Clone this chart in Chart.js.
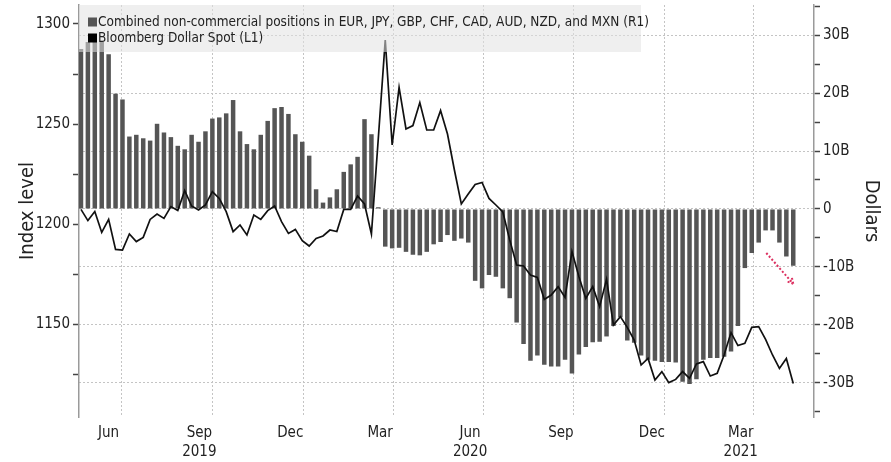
<!DOCTYPE html>
<html>
<head>
<meta charset="utf-8">
<script src="https://cdn.jsdelivr.net/npm/chart.js@4.4.1/dist/chart.umd.min.js"></script>
<style>
  html, body { margin: 0; padding: 0; background: #fff; }
  #wrap { width: 891px; height: 462px; }
</style>
</head>
<body>
<div id="wrap"><canvas id="chart" width="891" height="462"></canvas></div>
<script>
// weekly observations, first one on Tue 2019-05-21
const firstWeek = [2019, 5, 21];

// Combined non-commercial positions, billions USD (right axis)
const positions = [
    27.6, 28.8, 28.8, 28.8, 26.7, 19.9, 18.9, 12.5, 12.8, 12.2,
    11.8, 14.7, 13.2, 12.4, 10.9, 10.3, 12.8, 11.6, 13.4, 15.6,
    15.8, 16.5, 18.8, 13.4, 11.2, 10.3, 12.8, 15.2, 17.4, 17.6,
    16.4, 12.9, 11.6, 9.2, 3.4, 1.1, 2.0, 3.4, 6.4, 7.7,
    9.0, 15.5, 12.9, 0.3, -6.5, -6.8, -6.7, -7.4, -7.9, -8.0,
    -7.4, -6.1, -5.7, -4.5, -5.5, -5.1, -5.8, -12.4, -13.7, -11.4,
    -11.7, -13.7, -15.4, -19.6, -23.3, -26.2, -25.3, -26.9, -27.2, -27.2,
    -26.0, -28.4, -25.1, -23.8, -23.0, -22.9, -22.0, -20.2, -18.7, -22.7,
    -23.1, -25.3, -26.0, -26.2, -26.4, -26.4, -26.5, -29.8, -30.2, -29.4,
    -26.0, -25.7, -25.7, -25.5, -24.6, -20.2, -10.2, -7.6, -5.8, -3.7,
    -3.7, -5.8, -8.2, -9.8
];

// Bloomberg Dollar Spot index (left axis)
const dollarSpot = [
    1207.3, 1201.7, 1206.2, 1195.8, 1202.3, 1187.3, 1187.0, 1195.0, 1191.2, 1193.3,
    1202.3, 1205.0, 1202.8, 1208.7, 1206.7, 1216.7, 1209.0, 1207.0, 1209.5, 1216.2,
    1212.8, 1206.2, 1196.2, 1199.5, 1194.5, 1204.5, 1202.3, 1206.7, 1209.0, 1201.2,
    1195.3, 1197.3, 1191.7, 1189.0, 1192.8, 1194.0, 1197.0, 1196.2, 1207.3, 1207.3,
    1214.0, 1210.0, 1195.0, 1243.0, 1292.0, 1239.5, 1268.3, 1247.5, 1249.2, 1260.7,
    1247.0, 1247.0, 1256.7, 1245.0, 1227.0, 1210.0, 1215.0, 1219.8, 1220.8, 1212.8,
    1209.5, 1206.0, 1192.0, 1179.5, 1179.0, 1174.5, 1173.3, 1162.3, 1164.5, 1168.7,
    1163.3, 1186.2, 1173.7, 1162.8, 1168.7, 1158.7, 1172.3, 1149.5, 1153.7, 1148.3,
    1142.0, 1129.5, 1132.8, 1122.0, 1126.2, 1120.7, 1122.3, 1126.2, 1122.8, 1130.0,
    1131.2, 1124.0, 1125.3, 1134.5, 1145.7, 1139.2, 1140.3, 1148.3, 1148.7, 1142.3,
    1134.5, 1127.8, 1132.8, 1120.3
];

// x axis: grid lines at month ends, labels shown for the month before
const gridDates = [
    [2019, 7, 1], [2019, 10, 1], [2020, 1, 1], [2020, 4, 1],
    [2020, 7, 1], [2020, 10, 1], [2021, 1, 1], [2021, 4, 1]
];
const monthLabels = [
    ['Jun'], ['Sep', '2019'], ['Dec'], ['Mar'],
    ['Jun', '2020'], ['Sep'], ['Dec'], ['Mar', '2021']
];

const leftTicks = [1125, 1150, 1175, 1200, 1225, 1250, 1275, 1300];
const leftLabels = ['', '1150', '', '1200', '', '1250', '', '1300'];
const rightTicks = [-35, -30, -25, -20, -15, -10, -5, 0, 5, 10, 15, 20, 25, 30, 35];
const rightLabels = ['', '-30B', '', '-20B', '', '-10B', '', '0', '', '10B', '', '20B', '', '30B', ''];

// red dotted arrow (week index, billions)
const arrowFrom = [99.1, -7.6];
const arrowTo = [103.0, -12.9];

const DAY = 86400000;
const t0 = Date.UTC(firstWeek[0], firstWeek[1] - 1, firstWeek[2]);
const dayOf = d => Math.round((Date.UTC(d[0], d[1] - 1, d[2]) - t0) / DAY);
const weekX = positions.map((_, i) => i * 7);
const gridX = gridDates.map(dayOf);

const FONT = "'DejaVu Sans Condensed', 'Liberation Sans Narrow', 'DejaVu Sans', sans-serif";
const TXT = '#222';
const AXIS = '#9a9a9a';
const GRID = '#c4c4c4';

function noPad(s) {
    s.paddingTop = 0;
    s.paddingBottom = 0;
    s.paddingLeft = 0;
    s.paddingRight = 0;
}

const legendBox = {
    id: 'legendBox',
    afterDatasetsDraw(chart) {
        const ctx = chart.ctx;
        const area = chart.chartArea;
        ctx.save();
        ctx.fillStyle = 'rgba(226,226,226,0.55)';
        ctx.fillRect(area.left, area.top, 562, 47);
        ctx.font = '13.5px ' + FONT;
        ctx.textBaseline = 'middle';
        const marks = ['#555555', '#000000'];
        chart.data.datasets.forEach(ds => {
            const k = ds.legendRow;
            const y = area.top + 17 + k * 16;
            ctx.fillStyle = marks[k];
            ctx.fillRect(area.left + 9, y - 4.5, 9, 9);
            ctx.fillStyle = TXT;
            ctx.fillText(ds.label, area.left + 19, y);
        });
        ctx.restore();
    }
};

const redArrow = {
    id: 'redArrow',
    afterDatasetsDraw(chart) {
        const {ctx, scales} = chart;
        const x1 = scales.x.getPixelForValue(arrowFrom[0] * 7);
        const y1 = scales.y2.getPixelForValue(arrowFrom[1]);
        const x2 = scales.x.getPixelForValue(arrowTo[0] * 7);
        const y2 = scales.y2.getPixelForValue(arrowTo[1]);
        const ang = Math.atan2(y2 - y1, x2 - x1);
        ctx.save();
        ctx.strokeStyle = '#dc3060';
        ctx.lineWidth = 2;
        ctx.setLineDash([2, 2]);
        ctx.beginPath();
        ctx.moveTo(x1, y1);
        ctx.lineTo(x2, y2);
        const h = 8;
        ctx.moveTo(x2, y2);
        ctx.lineTo(x2 - h * Math.cos(ang - 0.5), y2 - h * Math.sin(ang - 0.5));
        ctx.moveTo(x2, y2);
        ctx.lineTo(x2 - h * Math.cos(ang + 0.5), y2 - h * Math.sin(ang + 0.5));
        ctx.stroke();
        ctx.restore();
    }
};

new Chart(document.getElementById('chart'), {
    type: 'bar',
    data: {
        datasets: [
            {
                type: 'line',
                label: 'Bloomberg Dollar Spot (L1)',
                legendRow: 1,
                data: dollarSpot.map((v, i) => ({x: weekX[i], y: v})),
                yAxisID: 'y',
                borderColor: '#111',
                borderWidth: 1.7,
                pointRadius: 0,
                tension: 0,
                order: 0
            },
            {
                type: 'bar',
                label: 'Combined non-commercial positions in EUR, JPY, GBP, CHF, CAD, AUD, NZD, and MXN (R1)',
                legendRow: 0,
                data: positions.map((v, i) => ({x: weekX[i], y: v})),
                yAxisID: 'y2',
                backgroundColor: '#555555',
                categoryPercentage: 1,
                barPercentage: 0.65,
                order: 1
            }
        ]
    },
    plugins: [legendBox, redArrow],
    options: {
        responsive: false,
        animation: false,
        events: [],
        layout: { padding: { top: 5, left: 0, right: 0, bottom: 0 } },
        plugins: { legend: { display: false }, tooltip: { enabled: false } },
        scales: {
            x: {
                type: 'linear',
                min: -2,
                max: 742,
                offset: false,
                afterBuildTicks: s => { s.ticks = gridX.map(v => ({value: v})); },
                afterFit: s => { s.height = 45; noPad(s); },
                ticks: {
                    autoSkip: false,
                    maxRotation: 0,
                    labelOffset: -13,
                    padding: 7,
                    color: TXT,
                    font: { family: FONT, size: 15, lineHeight: 1.27 },
                    callback: (v, i) => monthLabels[i]
                },
                grid: { color: GRID, lineWidth: 1, drawTicks: false, offset: false },
                border: { display: false, dash: [2, 2] }
            },
            y: {
                position: 'left',
                min: 1103.5,
                max: 1309.5,
                afterBuildTicks: s => { s.ticks = leftTicks.map(v => ({value: v})); },
                afterFit: s => { s.width = 79; noPad(s); },
                ticks: {
                    padding: 3,
                    color: TXT,
                    font: { family: FONT, size: 15 },
                    callback: (v, i) => leftLabels[i]
                },
                grid: { drawOnChartArea: false, tickLength: 6, tickColor: '#444', tickWidth: 1.5 },
                border: { color: AXIS, width: 1.5 },
                title: {
                    display: true,
                    text: 'Index level',
                    color: TXT,
                    font: { family: FONT, size: 20 },
                    padding: { top: 16, bottom: 0 }
                }
            },
            y2: {
                position: 'right',
                min: -35.9,
                max: 35.2,
                afterBuildTicks: s => { s.ticks = rightTicks.map(v => ({value: v})); },
                afterFit: s => { s.width = 77; noPad(s); },
                ticks: {
                    padding: 3,
                    color: TXT,
                    font: { family: FONT, size: 15 },
                    callback: (v, i) => rightLabels[i]
                },
                grid: {
                    color: c => (c.tick && c.tick.value % 10 === 0) ? GRID : 'rgba(0,0,0,0)',
                    tickLength: 6,
                    tickColor: '#444',
                    tickWidth: 1.5
                },
                border: { color: AXIS, width: 1.5, dash: [2, 2] },
                title: {
                    display: true,
                    text: 'Dollars',
                    color: TXT,
                    font: { family: FONT, size: 20 },
                    padding: { top: 8, bottom: 0 }
                }
            }
        }
    }
});
</script>
</body>
</html>
